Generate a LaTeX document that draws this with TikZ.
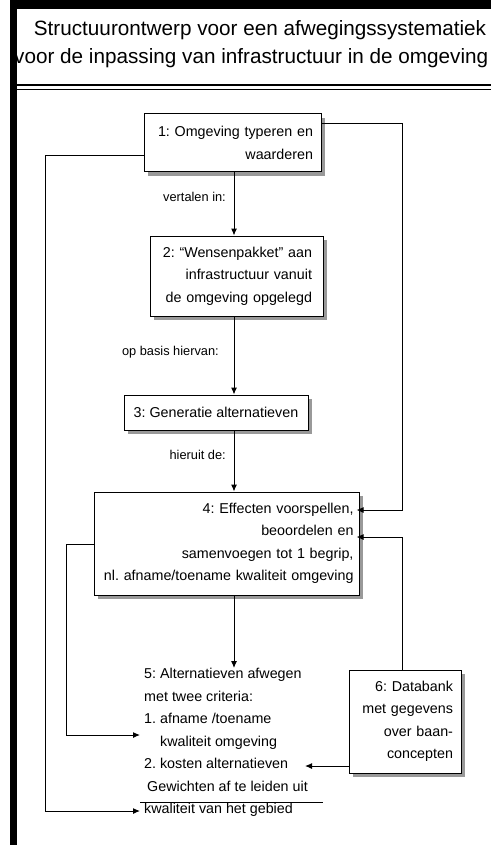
\documentclass[tikz,border=0pt]{standalone}
\usepackage{fontspec}
\setmainfont{Liberation Sans}
\usetikzlibrary{arrows.meta,calc,shadows}
\newcommand{\boxfont}{\fontsize{14.3}{22.5}\selectfont}
\newcommand{\titlefont}{\fontsize{20.7}{28}\selectfont}
\begin{document}
\frenchspacing
\begin{tikzpicture}[x=1pt,y=-1pt,
  box/.style={draw, line width=1pt, fill=white, font=\boxfont, inner sep=0pt,
    align=right, general shadow={fill=black!40, shadow xshift=4pt, shadow yshift=-4pt}},
  arr/.style={line width=1pt, -{Latex[length=7pt,width=6pt]}},
  lbl/.style={font=\fontsize{12.8}{15}\selectfont, inner sep=0pt}]
\useasboundingbox (0,0) rectangle (491,845);
\clip (0,0) rectangle (491,845);
\fill[white] (0,0) rectangle (491,845);
% frame
\fill[black] (10,0) rectangle (491,9);
\fill[black] (10,0) rectangle (17,845);
\draw[line width=1.5pt] (17,85) -- (491,85);
\draw[line width=0.8pt] (17,89.5) -- (491,89.5);
% title
\node[font=\titlefont, inner sep=0pt] (t1) at (260,30) {Structuurontwerp voor een afwegingssystematiek};
\node[font=\titlefont, inner sep=0pt, anchor=west] (t2) at (14,58) {voor de inpassing van infrastructuur in de omgeving};
% columns
\coordinate (col) at (234,0);
\coordinate (rx) at (402,0);
\coordinate (lx) at (66,0);
\coordinate (ox) at (45,0);
% boxes
\node[box, minimum width=177, minimum height=58, text width=161] (b1) at (232.5,143)
  {1: Omgeving typeren en\\waarderen};
\node[box, minimum width=173, minimum height=80, text width=151] (b2) at (236.5,276)
  {2: ``Wensenpakket'' aan\\infrastructuur vanuit\\de omgeving opgelegd};
\node[box, minimum width=184, minimum height=35, align=center] (b3) at (216,412.5)
  {3: Generatie alternatieven};
\node[box, minimum width=265, minimum height=103, text width=254] (b4) at (226.5,543.5)
  {4: Effecten voorspellen,\\beoordelen en\\samenvoegen tot 1 begrip,\\nl. afname/toename kwaliteit omgeving};
\node[box, minimum width=112, minimum height=103, text width=96] (b6) at (405,721.5)
  {6: Databank\\met gegevens\\over baan-\\concepten};
\node[font=\boxfont, inner sep=0pt, anchor=north west, align=left] (n5) at (144,668)
  {5: Alternatieven afwegen\\met twee criteria:\\1. afname /toename\\\hspace*{16pt}kwaliteit omgeving\\2. kosten alternatieven\\\hspace*{3pt}Gewichten af te leiden uit\\kwaliteit van het gebied};
% labels
\node[lbl, anchor=east] (l1) at (226,197) {vertalen in:};
\node[lbl, anchor=east] (l2) at (219,352) {op basis hiervan:};
\node[lbl, anchor=east] (l3) at (226,455) {hieruit de:};
% main flow
\draw[arr] (col |- b1.south) -- (col |- b2.north);
\draw[arr] (col |- b2.south) -- (col |- b3.north);
\draw[arr] (col |- b3.south) -- (col |- b4.north);
\draw[arr] (col |- b4.south) -- (col |- n5.north);
% right loop 1 -> 4
\draw[arr, shorten >=-3pt] ($(b1.north east)+(0,10)$) -| (rx |- 0,510) -- (b4.east |- 0,510);
% 6 -> 4
\draw[arr, shorten >=-3pt] (rx |- b6.north) -- (rx |- 0,537) -- (b4.east |- 0,537);
% 6 -> 5
\coordinate (t6) at (305,766);
\draw[arr] (b6.west |- t6) -- (t6);
% 4 -> 5 left loop
\draw[arr] (b4.west |- 0,544) -| (lx |- 0,735) -- ($(n5.north west)+(-4,67)$);
% 1 -> 5 outer loop
\draw[arr] ($(b1.north west)+(0,42)$) -| (ox |- 0,811) -- ($(n5.north west)+(-4,143)$);
% rule in box 5
\draw[line width=0.8pt] (140,802) -- (323,802);
\end{tikzpicture}
\end{document}
